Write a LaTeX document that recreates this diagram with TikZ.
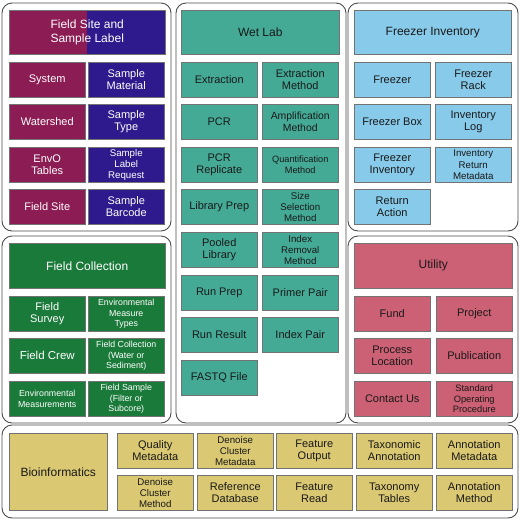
\documentclass[tikz,border=0pt]{standalone}
\usepackage{fontspec}
\setmainfont{Liberation Sans}

\definecolor{sitered}{RGB}{140,28,84}
\definecolor{siteblue}{RGB}{46,26,140}
\definecolor{wetteal}{RGB}{68,170,150}
\definecolor{freezeblue}{RGB}{135,202,234}
\definecolor{fieldgreen}{RGB}{26,122,58}
\definecolor{utilpink}{RGB}{204,96,116}
\definecolor{bioyellow}{RGB}{218,200,114}

\begin{document}
\begin{tikzpicture}[x=1pt, y=-1pt,
    panel/.style={draw=black!70, line width=0.9pt, rounded corners=10pt},
    cell/.style={draw=black!55, line width=0.5pt, anchor=north west, inner sep=0pt,
      align=center, minimum width=76pt, minimum height=35pt, text=black!90,
      font=\fontsize{11}{12.6}\selectfont},
    head/.style={cell, minimum width=156pt, minimum height=44pt,
      font=\fontsize{12}{14}\selectfont},
    small/.style={font=\fontsize{9.7}{11.2}\selectfont},
    tiny/.style={font=\fontsize{8.8}{10.2}\selectfont},
    site/.style={cell, fill=sitered, text=white},
    sample/.style={cell, fill=siteblue, text=white},
    wet/.style={cell, fill=wetteal},
    freeze/.style={cell, fill=freezeblue},
    field/.style={cell, fill=fieldgreen, text=white},
    util/.style={cell, fill=utilpink},
    bio/.style={cell, fill=bioyellow}]

    % Page background
    \fill[white] (0,0) rectangle (520,520);
    \useasboundingbox (0,0) rectangle (520,520);

    % Outer panels
    \draw[panel] (2,3) rectangle (171,231);
    \draw[panel] (176,3) rectangle (346,423);
    \draw[panel] (348,3) rectangle (518,231);
    \draw[panel] (2,236) rectangle (171,423);
    \draw[panel] (348,236) rectangle (518,423);
    \draw[panel] (2,425) rectangle (518,518);

    % Field site and sample label
    \node[head, fill=sitered, text=white,
      path picture={\fill[siteblue] (path picture bounding box.north) rectangle
        (path picture bounding box.south east);}] (sitehead) at (9,10)
      {Field Site and\\Sample Label};
    \node[site] (system) at (9,62) {System};
    \node[sample] (material) at (88,62) {Sample\\Material};
    \node[site] (watershed) at (9,104) {Watershed};
    \node[sample] (sampletype) at (88,104) {Sample\\Type};
    \node[site] (envo) at (9,147) {EnvO\\Tables};
    \node[sample, small] (labelreq) at (88,147) {Sample\\Label\\Request};
    \node[site] (fieldsite) at (9,189) {Field Site};
    \node[sample] (barcode) at (88,189) {Sample\\Barcode};

    % Wet lab
    \node[head, fill=wetteal, minimum width=158pt] (wethead) at (181,10) {Wet Lab};
    \node[wet] (extraction) at (181,62) {Extraction};
    \node[wet] (extmethod) at (262,62) {Extraction\\Method};
    \node[wet] (pcr) at (181,104) {PCR};
    \node[wet, font=\fontsize{10.4}{12}\selectfont] (ampmethod) at (262,104) {Amplification\\Method};
    \node[wet] (pcrrep) at (181,147) {PCR\\Replicate};
    \node[wet, font=\fontsize{9.2}{11}\selectfont] (quantmethod) at (262,147) {Quantification\\Method};
    \node[wet] (libprep) at (181,189) {Library Prep};
    \node[wet, small] (sizemethod) at (262,189) {Size\\Selection\\Method};
    \node[wet] (pooled) at (181,232) {Pooled\\Library};
    \node[wet, small] (indexremoval) at (262,232) {Index\\Removal\\Method};
    \node[wet] (runprep) at (181,275) {Run Prep};
    \node[wet] (primerpair) at (262,275) {Primer Pair};
    \node[wet] (runresult) at (181,317) {Run Result};
    \node[wet] (indexpair) at (262,317) {Index Pair};
    \node[wet] (fastq) at (181,360) {FASTQ File};

    % Freezer inventory
    \node[head, fill=freezeblue, minimum width=157pt] (freezehead) at (354,10) {Freezer Inventory};
    \node[freeze] (freezer) at (354,62) {Freezer};
    \node[freeze] (rack) at (435,62) {Freezer\\Rack};
    \node[freeze] (box) at (354,104) {Freezer Box};
    \node[freeze] (invlog) at (435,104) {Inventory\\Log};
    \node[freeze] (freezeinv) at (354,147) {Freezer\\Inventory};
    \node[freeze, small] (invreturn) at (435,147) {Inventory\\Return\\Metadata};
    \node[freeze] (returnaction) at (354,189) {Return\\Action};

    % Field collection
    \node[head, fill=fieldgreen, text=white, minimum height=45pt] (fieldhead) at (9,243) {Field Collection};
    \node[field] (survey) at (9,296) {Field\\Survey};
    \node[field, tiny] (measuretypes) at (88,296) {Environmental\\Measure\\Types};
    \node[field, font=\fontsize{11.5}{13}\selectfont] (crew) at (9,338) {Field Crew};
    \node[field, tiny] (collection) at (88,338) {Field Collection\\(Water or\\Sediment)};
    \node[field, tiny] (envmeas) at (9,381) {Environmental\\Measurements};
    \node[field, tiny] (fieldsample) at (88,381) {Field Sample\\(Filter or\\Subcore)};

    % Utility
    \node[head, fill=utilpink, minimum width=158pt, minimum height=45pt] (utilhead) at (354,243) {Utility};
    \node[util] (fund) at (354,296) {Fund};
    \node[util] (project) at (436,296) {Project};
    \node[util] (location) at (354,338) {Process\\Location};
    \node[util] (publication) at (436,338) {Publication};
    \node[util] (contact) at (354,381) {Contact Us};
    \node[util, font=\fontsize{9.3}{10.8}\selectfont] (sop) at (436,381) {Standard\\Operating\\Procedure};

    % Bioinformatics
    \node[bio, minimum width=98pt, minimum height=77pt, font=\fontsize{12}{14}\selectfont] (bioinf) at (9,433) {Bioinformatics};
    \node[bio] (quality) at (117,433) {Quality\\Metadata};
    \node[bio, small] (denoisemeta) at (197,433) {Denoise\\Cluster\\Metadata};
    \node[bio] (featureout) at (276,433) {Feature\\Output};
    \node[bio] (taxannot) at (356,433) {Taxonomic\\Annotation};
    \node[bio] (annotmeta) at (436,433) {Annotation\\Metadata};
    \node[bio, small] (denoisemethod) at (117,475) {Denoise\\Cluster\\Method};
    \node[bio] (refdb) at (197,475) {Reference\\Database};
    \node[bio] (featureread) at (276,475) {Feature\\Read};
    \node[bio] (taxtables) at (356,475) {Taxonomy\\Tables};
    \node[bio] (annotmethod) at (436,475) {Annotation\\Method};

\end{tikzpicture}
\end{document}
